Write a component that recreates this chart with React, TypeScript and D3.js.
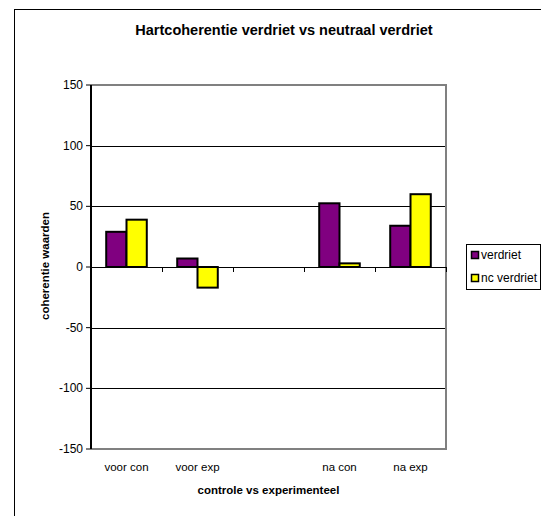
import React from "react";
import * as d3 from "d3";

// Chart data
const categories: string[] = ["voor con", "voor exp", "", "na con", "na exp"];
const seriesNames: string[] = ["verdriet", "nc verdriet"];
const verdriet: (number | null)[] = [29, 7, null, 52.5, 34];
const ncVerdriet: (number | null)[] = [39, -17, null, 3, 60];
const yTicks: number[] = [150, 100, 50, 0, -50, -100, -150];
const seriesColors: string[] = ["#800080", "#FFFF00"];

const W = 541;
const H = 516;
const plot = { left: 91, right: 446, top: 85, bottom: 449 };
const FONT = "'Liberation Sans', Arial, Helvetica, sans-serif";

export default function App() {
  const x = d3
    .scaleBand<number>()
    .domain(categories.map((_, i) => i))
    .range([plot.left, plot.right])
    .paddingInner(0)
    .paddingOuter(0);

  const xSub = d3
    .scaleBand<number>()
    .domain(seriesNames.map((_, i) => i))
    .range([0, x.bandwidth()])
    .paddingInner(0)
    .paddingOuter(0.75);

  const y = d3.scaleLinear().domain([-150, 150]).range([plot.bottom, plot.top]);

  const series = [verdriet, ncVerdriet];
  const y0 = y(0);

  return (
    <svg
      width={W}
      height={H}
      style={{ position: "fixed", left: 0, top: 0, background: "#fff" }}
      fontFamily={FONT}
    >
      <rect x={0} y={0} width={W} height={H} fill="#fff" />
      {/* chart area border */}
      <rect x={14.5} y={9.5} width={W + 20} height={H + 20} fill="none" stroke="#000" strokeWidth={1} />

      {/* title */}
      <text x={284} y={35} textAnchor="middle" fontSize={14.5} fontWeight="bold" fill="#000">
        Hartcoherentie verdriet vs neutraal verdriet
      </text>

      {/* gridlines */}
      {yTicks
        .filter((t) => t !== 150 && t !== -150 && t !== 0)
        .map((t) => (
          <line
            key={"g" + t}
            x1={plot.left}
            x2={plot.right}
            y1={Math.round(y(t)) + 0.5}
            y2={Math.round(y(t)) + 0.5}
            stroke="#000"
            strokeWidth={1}
          />
        ))}

      {/* plot area border (top, right, bottom) */}
      <path
        d={`M${plot.left},${plot.top} H${plot.right} V${plot.bottom} H${plot.left}`}
        fill="none"
        stroke="#808080"
        strokeWidth={2}
      />

      {/* bars */}
      {series.map((vals, si) =>
        vals.map((v, ci) => {
          if (v === null) return null;
          const bx = (x(ci) as number) + (xSub(si) as number);
          const top = Math.min(y(v), y0);
          const h = Math.abs(y(v) - y0);
          return (
            <rect
              key={`b${si}-${ci}`}
              x={bx}
              y={top}
              width={xSub.bandwidth()}
              height={h}
              fill={seriesColors[si]}
              stroke="#000"
              strokeWidth={2}
            />
          );
        })
      )}

      {/* zero line with category ticks */}
      <line x1={plot.left} x2={plot.right} y1={Math.round(y0) + 0.5} y2={Math.round(y0) + 0.5} stroke="#000" strokeWidth={1} />
      {categories.map((_, i) => {
        const tx = Math.round((x(i) as number) + x.bandwidth());
        return (
          <line key={"ct" + i} x1={tx + 0.5} x2={tx + 0.5} y1={y0} y2={y0 + 5} stroke="#000" strokeWidth={1} />
        );
      })}

      {/* y axis */}
      <line x1={plot.left} x2={plot.left} y1={plot.top} y2={plot.bottom} stroke="#000" strokeWidth={2} />
      {yTicks.map((t) => (
        <g key={"yt" + t}>
          <line x1={plot.left - 5} x2={plot.left} y1={y(t)} y2={y(t)} stroke="#000" strokeWidth={1} />
          <text x={plot.left - 8} y={y(t)} textAnchor="end" dominantBaseline="central" fontSize={12} fill="#000">
            {t}
          </text>
        </g>
      ))}

      {/* category labels */}
      {categories.map((c, i) => (
        <text
          key={"cl" + i}
          x={(x(i) as number) + x.bandwidth() / 2}
          y={467}
          textAnchor="middle"
          dominantBaseline="central"
          fontSize={11.5}
          fill="#000"
        >
          {c}
        </text>
      ))}

      {/* axis titles */}
      <text x={268.5} y={490} textAnchor="middle" dominantBaseline="central" fontSize={11.5} fontWeight="bold" fill="#000">
        controle vs experimenteel
      </text>
      <text
        transform={`translate(45,266) rotate(-90)`}
        textAnchor="middle"
        dominantBaseline="central"
        fontSize={11.5}
        fontWeight="bold"
        fill="#000"
      >
        coherentie waarden
      </text>

      {/* legend */}
      <rect x={466.5} y={244.5} width={74} height={45} fill="#fff" stroke="#000" strokeWidth={1} />
      {seriesNames.map((name, i) => {
        const cy = 255 + i * 23;
        return (
          <g key={"lg" + i}>
            <rect x={471.5} y={cy - 3.5} width={7} height={7} fill={seriesColors[i]} stroke="#000" strokeWidth={1.5} />
            <text x={481} y={cy} dominantBaseline="central" fontSize={12} fill="#000">
              {name}
            </text>
          </g>
        );
      })}
    </svg>
  );
}
